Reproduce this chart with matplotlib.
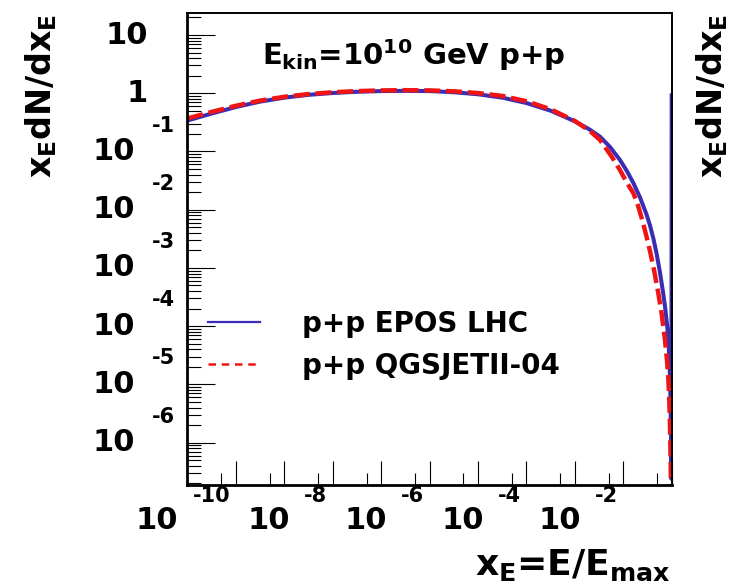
import matplotlib
matplotlib.use("Agg")
import matplotlib.pyplot as plt
from matplotlib.lines import Line2D
from matplotlib.ticker import FixedLocator, NullFormatter

plt.rcParams['font.family'] = ['DejaVu Sans']
plt.rcParams['font.weight'] = 'bold'
plt.rcParams['mathtext.fontset'] = 'custom'
plt.rcParams['mathtext.rm'] = 'DejaVu Sans:bold'
plt.rcParams['mathtext.it'] = 'DejaVu Sans:bold'
plt.rcParams['mathtext.bf'] = 'DejaVu Sans:bold'

# x_E dN/dx_E for p+p at E_kin = 1e10 GeV
xe_epos = [1e-10, 3.2e-10, 1e-9, 3.2e-9, 1e-8, 3.2e-8, 1e-7, 3.2e-7, 1e-6, 3.2e-6,
           1e-5, 3.2e-5, 1e-4, 3.2e-4, 1e-3, 3.2e-3, 1e-2, 2e-2, 0.033, 0.053,
           0.0855, 0.119, 0.161, 0.221, 0.304, 0.356, 0.417, 0.49, 0.573, 0.661,
           0.727, 0.80, 0.851, 0.892, 0.922, 0.945, 0.967, 0.986, 1.0]
dn_epos = [0.34, 0.45, 0.58, 0.72, 0.84, 0.94, 1.01, 1.06, 1.09, 1.10,
           1.09, 1.04, 0.96, 0.84, 0.68, 0.50, 0.33, 0.24, 0.18, 0.12,
           0.0716, 0.046, 0.029, 0.0164, 8.2e-3, 5.4e-3, 3.25e-3, 1.73e-3, 8.4e-4, 3.9e-4,
           2.2e-4, 1.09e-4, 6.2e-5, 3.0e-5, 1.32e-5, 5.4e-6, 1.36e-6, 2.4e-7, 1.0]

xe_qgs = [1e-10, 3.2e-10, 1e-9, 3.2e-9, 1e-8, 3.2e-8, 1e-7, 3.2e-7, 1e-6, 3.2e-6,
          1e-5, 3.2e-5, 1e-4, 3.2e-4, 1e-3, 3.2e-3, 1e-2, 2.05e-2, 0.033, 0.0576,
          0.0855, 0.119, 0.161, 0.197, 0.24, 0.294, 0.356, 0.431, 0.529, 0.616,
          0.727, 0.80, 0.851, 0.892, 0.922, 0.954, 0.977]
dn_qgs = [0.37, 0.48, 0.61, 0.75, 0.87, 0.97, 1.04, 1.09, 1.12, 1.13,
          1.12, 1.08, 1.01, 0.90, 0.73, 0.53, 0.334, 0.225, 0.158, 0.082,
          0.048, 0.029, 0.0194, 0.0126, 7.2e-3, 3.8e-3, 1.96e-3, 9.3e-4, 3.7e-4, 1.7e-4,
          5.8e-5, 2.6e-5, 1.29e-5, 5.4e-6, 2.0e-6, 4.2e-7, 7e-8]

series_labels = ['p+p EPOS LHC', 'p+p QGSJETII-04']
x_label_exps = [-10, -8, -6, -4, -2]
y_label_exps = [1, 0, -1, -2, -3, -4, -5, -6]

blue = '#3a2db4'
red = '#f01414'

fig = plt.figure(figsize=(7.34, 5.85), dpi=100)
ax = fig.add_axes([0.2554, 0.1701, 0.6597, 0.8077])

ax.plot(xe_epos, dn_epos, color=blue, lw=2.9, solid_capstyle='butt')
ax.plot(xe_qgs, dn_qgs, color=red, lw=3.2, dashes=(3.6, 1.3))

ax.set_xscale('log')
ax.set_yscale('log')
ax.set_xlim(1e-10, 1)
ax.set_ylim(1.84e-7, 23.9)

# ticks: only left and bottom, pointing in
ax.xaxis.set_major_locator(FixedLocator([10.0 ** e for e in range(-10, 1)]))
ax.xaxis.set_minor_locator(FixedLocator([5 * 10.0 ** e for e in range(-10, 0)]))
ax.yaxis.set_major_locator(FixedLocator([10.0 ** e for e in range(-7, 2)]))
ax.yaxis.set_minor_locator(FixedLocator([m * 10.0 ** e for e in range(-7, 2) for m in range(2, 10)]))
ax.xaxis.set_minor_formatter(NullFormatter())
ax.yaxis.set_minor_formatter(NullFormatter())
ax.tick_params(which='both', direction='in', top=False, right=False,
               labelleft=False, labelbottom=False, color='black', width=0.8)
ax.tick_params(axis='x', which='major', length=17.3)
ax.tick_params(axis='x', which='minor', length=8.6)
ax.tick_params(axis='y', which='major', length=20)
ax.tick_params(axis='y', which='minor', length=10)

for side in ['left', 'bottom']:
    ax.spines[side].set_linewidth(2.0)
for side in ['top', 'right']:
    ax.spines[side].set_linewidth(1.4)

# y tick labels, ROOT style with detached exponent
ytr = ax.get_yaxis_transform()
for e in y_label_exps:
    if e == 1:
        ax.text(-0.0816, 10.0 ** e, '10', transform=ytr, ha='right', va='center', fontsize=22)
    elif e == 0:
        ax.text(-0.0816, 10.0 ** e, '1', transform=ytr, ha='right', va='center', fontsize=22)
    else:
        ax.text(-0.1084, 10.0 ** e, '10', transform=ytr, ha='right', va='center', fontsize=22)
        ax.annotate(str(e), xy=(-0.073, 10.0 ** e), xycoords=ytr, xytext=(0, 18.7),
                    textcoords='offset points', ha='left', va='center', fontsize=15)

# x tick labels
xtr = ax.get_xaxis_transform()
for e in x_label_exps:
    lab = str(e)
    off = 6 if len(lab) == 2 else -9
    ax.annotate('10', xy=(10.0 ** e, -0.075), xycoords=xtr, xytext=(off * 0.72, 0),
                textcoords='offset points', ha='right', va='center', fontsize=22)
    ax.annotate(lab, xy=(10.0 ** e, -0.022), xycoords=xtr, xytext=((off + 14) * 0.72, 0),
                textcoords='offset points', ha='left', va='center', fontsize=15)

ax.text(262 / 734, 1 - 65 / 585, r'$E_{kin}$=10$^{10}$ GeV p+p', transform=fig.transFigure,
        ha='left', va='baseline', fontsize=21)

# axis titles
ylab = r'$x_{E}dN/dx_{E}$'
fig.text(41 / 734, 1 - 14 / 585, ylab, rotation=90, ha='center', va='top', fontsize=24)
fig.text(712 / 734, 1 - 14 / 585, ylab, rotation=90, ha='center', va='top', fontsize=24)
fig.text(671 / 734, 1 - 575 / 585, r'$x_{E}$=E/$E_{max}$', ha='right', va='baseline', fontsize=26)

handles = [Line2D([], [], color=blue, lw=1.6),
           Line2D([], [], color=red, lw=1.8, dashes=(3, 2.3))]
ax.legend(handles, series_labels, loc='upper left', bbox_to_anchor=(0.0423, 0.372),
          frameon=False, borderpad=0, borderaxespad=0, handlelength=1.87,
          handletextpad=1.5, labelspacing=0.5, prop={'size': 20, 'weight': 'bold'})

fig.savefig('out.png', dpi=100)
